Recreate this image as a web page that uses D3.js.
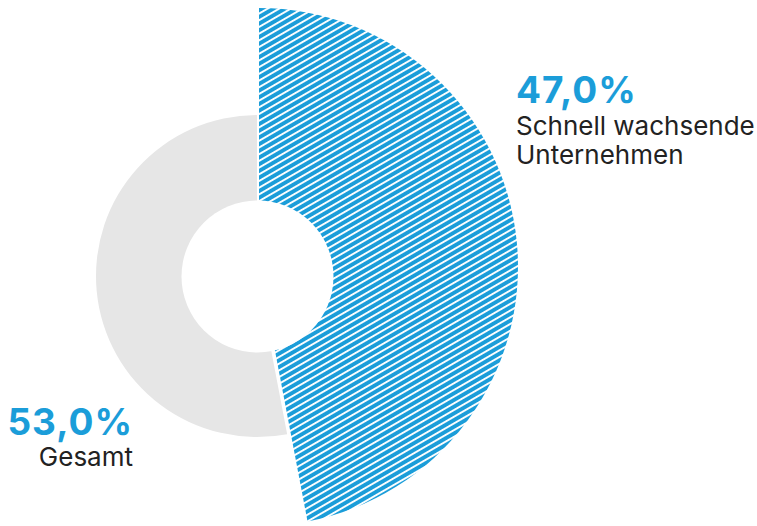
<!DOCTYPE html>
<html><head><meta charset="utf-8">
<script src="https://cdn.jsdelivr.net/npm/d3@7"></script>
<style>html,body{margin:0;padding:0;background:#fff;}svg{display:block;}</style>
</head><body>
<svg id="chart" width="757" height="526"></svg>
<script>
const categories = ["Schnell wachsende Unternehmen", "Gesamt"];
const values = [47.0, 53.0];
const valueLabels = ["47,0%", "53,0%"];
const labelLines = [["Schnell wachsende", "Unternehmen"], ["Gesamt"]];

const BLUE = "#1b9dd9", GRAY = "#e6e6e6";
const svg = d3.select("#chart");
const defs = svg.append("defs");
const P = 5.8;
const pat = defs.append("pattern").attr("id", "hatch")
  .attr("patternUnits", "userSpaceOnUse").attr("width", 10).attr("height", P)
  .attr("patternTransform", "rotate(-30)");
pat.append("rect").attr("width", 10).attr("height", P).attr("fill", BLUE);
pat.append("rect").attr("y", 0).attr("width", 10).attr("height", 1.9).attr("fill", "#fff");

const pie = d3.pie().sort(null).value(d => d).startAngle(0).endAngle(2 * Math.PI);
const arcs = pie(values);

const geom = [
  { cx: 259, cy: 267, r: 259, fill: "url(#hatch)" },
  { cx: 257, cy: 276, r: 161, fill: GRAY }
];
const hole = { cx: 257.5, cy: 276.5, r: 76 };

arcs.forEach((a, i) => {
  const g = geom[i];
  const arcGen = d3.arc().innerRadius(0).outerRadius(g.r);
  svg.append("path").attr("transform", `translate(${g.cx},${g.cy})`)
    .attr("d", arcGen(a)).attr("fill", g.fill);
});
svg.append("circle").attr("cx", hole.cx).attr("cy", hole.cy).attr("r", hole.r).attr("fill", "#fff");

const FONT = "Inter, Lato, sans-serif";
const lab = [
  { x: 516, y: 103, anchor: "start", ly: [135, 164] },
  { x: 133, y: 435, anchor: "end", ly: [466] }
];
lab.forEach((L, i) => {
  svg.append("text").attr("x", L.x).attr("y", L.y).attr("text-anchor", L.anchor)
    .attr("font-family", FONT).attr("font-weight", 700).attr("font-size", 37)
    .attr("letter-spacing", 1).attr("fill", BLUE).text(valueLabels[i]);
  labelLines[i].forEach((t, j) => {
    svg.append("text").attr("x", L.x).attr("y", L.ly[j]).attr("text-anchor", L.anchor)
      .attr("font-family", FONT).attr("font-weight", 400).attr("font-size", 26)
      .attr("fill", "#222").text(t);
  });
});
</script>
</body></html>
